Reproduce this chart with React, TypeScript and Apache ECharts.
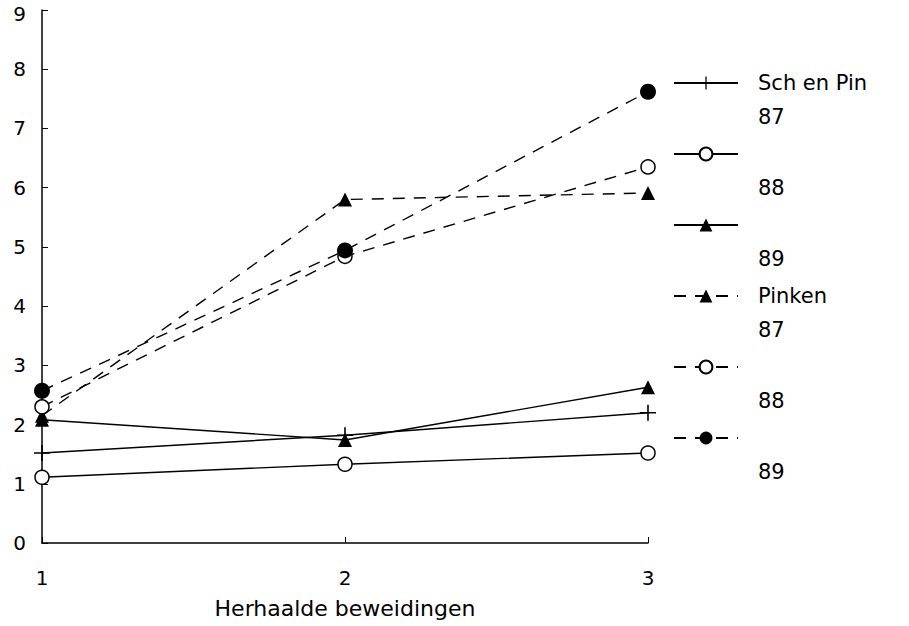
import React, { useEffect, useRef } from "react";
import * as echarts from "echarts";

const categories = ["1", "2", "3"];
const seriesNames = ["Sch en Pin\n87", "\n88", "\n89 ", "Pinken\n87", "\n88 ", "\n89  "];
const schPin87 = [1.52, 1.82, 2.2];
const schPin88 = [1.11, 1.33, 1.52];
const schPin89 = [2.08, 1.74, 2.63];
const pinken87 = [2.15, 5.8, 5.91];
const pinken88 = [2.3, 4.84, 6.35];
const pinken89 = [2.57, 4.94, 7.62];
const yTicks = [0, 1, 2, 3, 4, 5, 6, 7, 8, 9];

const FONT = "DejaVu Sans";
const PLUS = "path://M4.5,0h1v4.5h4.5v1h-4.5v4.5h-1v-4.5h-4.5v-1h4.5z";

export default function App() {
  const ref = useRef<HTMLDivElement>(null);
  useEffect(() => {
    document.body.style.margin = "0";
    const chart = echarts.init(ref.current!, undefined, { renderer: "svg" });
    const values = [schPin87, schPin88, schPin89, pinken87, pinken88, pinken89];
    const symbols = [PLUS, "circle", "triangle", "triangle", "circle", "circle"];
    const fills = ["#000", "#fff", "#000", "#000", "#fff", "#000"];
    const sizes = [16, 14, 14, 14, 14, 16];
    const dashed = [false, false, false, true, true, true];
    const legendY = [83, 154, 225, 296, 367, 438];
    const series = values.map((v, i) => ({
      type: "line",
      name: seriesNames[i],
      data: v,
      symbol: symbols[i],
      symbolSize: sizes[i],
      showAllSymbol: true,
      lineStyle: { color: "#000", width: 1.4, type: dashed[i] ? [12, 9] : "solid" },
      itemStyle: { color: fills[i], borderColor: "#000", borderWidth: fills[i] === "#fff" ? 1.5 : 0, opacity: 1 },
      emphasis: { disabled: true },
      z: 3 + i,
    }));
    const legends = seriesNames.map((n, i) => ({
      data: [n],
      left: 668,
      top: legendY[i] - 56,
      orient: "vertical",
      itemWidth: 64,
      itemHeight: 16,
      selectedMode: false,
      formatter: (name: string) => "\n" + name,
      textStyle: {
        fontFamily: FONT,
        fontSize: 21,
        color: "#000",
        lineHeight: 34,
        padding: [0, 0, 0, 15],
      },
    }));
    chart.setOption({
      animation: false,
      backgroundColor: "#fff",
      grid: { left: 42, top: 10, width: 606, height: 533, containLabel: false, outerBoundsMode: "none" },
      legend: legends,
      xAxis: {
        type: "category",
        data: categories,
        boundaryGap: false,
        name: "Herhaalde beweidingen",
        nameLocation: "middle",
        nameGap: 54,
        nameTextStyle: { fontFamily: FONT, fontSize: 22, color: "#000" },
        axisLine: { lineStyle: { color: "#000", width: 1.5 } },
        axisTick: { inside: true, length: 6, lineStyle: { color: "#000" } },
        axisLabel: { fontFamily: FONT, fontSize: 20, color: "#000", margin: 25 },
        splitLine: { show: false },
      },
      yAxis: {
        type: "value",
        min: yTicks[0],
        max: yTicks[yTicks.length - 1],
        interval: 1,
        axisLine: { show: true, lineStyle: { color: "#000", width: 1.5 } },
        axisTick: { show: true, inside: true, length: 6, lineStyle: { color: "#000" } },
        axisLabel: {
          fontFamily: FONT,
          fontSize: 20,
          color: "#000",
          margin: 16,
          formatter: (v: number) => (v === yTicks[yTicks.length - 1] ? "{t|" + v + "}" : String(v)),
          rich: { t: { fontFamily: FONT, fontSize: 20, color: "#000", padding: [8, 0, 0, 0] } },
        },
        splitLine: { show: false },
      },
      series,
    });
    return () => chart.dispose();
  }, []);
  return <div ref={ref} style={{ width: 909, height: 626 }} />;
}
